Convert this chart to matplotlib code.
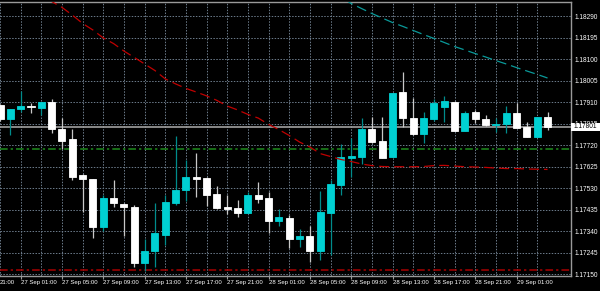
import numpy as np
import pandas as pd
import matplotlib
matplotlib.use('Agg')
import matplotlib.pyplot as plt
from matplotlib.patches import Rectangle
from matplotlib.transforms import blended_transform_factory

# EURUSD H1, first candle 26 Sep 23:00
opens = [1.17897, 1.17835, 1.17878, 1.17891, 1.17885, 1.17909, 1.17789, 1.17745, 1.17587, 1.17570,
         1.17359, 1.17484, 1.17461, 1.17445, 1.17200, 1.17253, 1.17322, 1.17465, 1.17521, 1.17580,
         1.17576, 1.17502, 1.17444, 1.17440, 1.17421, 1.17498, 1.17484, 1.17386, 1.17399, 1.17303,
         1.17318, 1.17253, 1.17421, 1.17543, 1.17661, 1.17668, 1.17789, 1.17739, 1.17668, 1.17953,
         1.17841, 1.17769, 1.17835, 1.17889, 1.17911, 1.17782, 1.17865, 1.17834, 1.17807, 1.17813,
         1.17863, 1.17801, 1.17757, 1.17842]
highs = [1.17901, 1.17879, 1.17960, 1.17904, 1.17912, 1.17923, 1.17841, 1.17791, 1.17590, 1.17572,
         1.17499, 1.17565, 1.17464, 1.17455, 1.17305, 1.17462, 1.17499, 1.17760, 1.17654, 1.17686,
         1.17579, 1.17540, 1.17499, 1.17475, 1.17514, 1.17558, 1.17514, 1.17436, 1.17411, 1.17348,
         1.17362, 1.17517, 1.17565, 1.17724, 1.17752, 1.17841, 1.17845, 1.17845, 1.17950, 1.18041,
         1.17926, 1.17867, 1.17922, 1.17937, 1.17914, 1.17870, 1.17875, 1.17853, 1.17838, 1.17892,
         1.17907, 1.17823, 1.17844, 1.17865]
lows = [1.17826, 1.17764, 1.17867, 1.17863, 1.17853, 1.17775, 1.17701, 1.17565, 1.17424, 1.17308,
        1.17338, 1.17446, 1.17318, 1.17182, 1.17163, 1.17182, 1.17278, 1.17455, 1.17473, 1.17492,
        1.17450, 1.17439, 1.17415, 1.17403, 1.17420, 1.17462, 1.17333, 1.17362, 1.17265, 1.17268,
        1.17204, 1.17214, 1.17234, 1.17497, 1.17580, 1.17636, 1.17729, 1.17663, 1.17667, 1.17801,
        1.17764, 1.17728, 1.17826, 1.17823, 1.17780, 1.17780, 1.17816, 1.17806, 1.17779, 1.17772,
        1.17795, 1.17754, 1.17755, 1.17786]
closes = [1.17835, 1.17878, 1.17892, 1.17888, 1.17909, 1.17789, 1.17738, 1.17580, 1.17568, 1.17359,
          1.17484, 1.17462, 1.17445, 1.17200, 1.17252, 1.17333, 1.17470, 1.17521, 1.17580, 1.17570,
          1.17499, 1.17442, 1.17437, 1.17421, 1.17499, 1.17481, 1.17386, 1.17401, 1.17303, 1.17319,
          1.17252, 1.17425, 1.17548, 1.17666, 1.17671, 1.17789, 1.17735, 1.17664, 1.17948, 1.17838,
          1.17769, 1.17838, 1.17904, 1.17914, 1.17782, 1.17860, 1.17834, 1.17808, 1.17813, 1.17860,
          1.17796, 1.17757, 1.17842, 1.17801]

# moving averages
ma_red = [1.18515, 1.18484, 1.18454, 1.18423, 1.18387, 1.18354, 1.18328, 1.18294, 1.18257, 1.18228,
          1.18193, 1.18168, 1.18135, 1.18107, 1.18078, 1.18049, 1.18012, 1.17990, 1.17970, 1.17954,
          1.17937, 1.17917, 1.17892, 1.17875, 1.17855, 1.17839, 1.17811, 1.17788, 1.17762, 1.17733,
          1.17711, 1.17682, 1.17669, 1.17656, 1.17647, 1.17636, 1.17629, 1.17625, 1.17624, 1.17624,
          1.17624, 1.17625, 1.17629, 1.17630, 1.17627, 1.17624, 1.17623, 1.17621, 1.17618, 1.17616,
          1.17616, 1.17614, 1.17613, 1.17612]
ma_teal = [np.nan] * 33 + [1.18374, 1.18345, 1.18323, 1.18301, 1.18281, 1.18261, 1.18244, 1.18226,
                           1.18208, 1.18191, 1.18173, 1.18155, 1.18140, 1.18124, 1.18109, 1.18093,
                           1.18078, 1.18062, 1.18047, 1.18032, 1.18016]

level_green = 1.17702
level_red = 1.17166
bid = 1.17801
price_ticks = [1.17150, 1.17245, 1.17340, 1.17435, 1.17530, 1.17625, 1.17720,
               1.17815, 1.17910, 1.18005, 1.18100, 1.18195, 1.18290]

times = pd.date_range('2017-09-26 23:00', periods=len(opens), freq='h')

bg = 'black'
bull, bull_wick = '#00d0d2', '#008c8c'
bear, bear_wick = 'white', '#c8c8c8'
grid_c = '#6d7c8c'
frame_c = '#9a9a9a'
fs_price, fs_time = 4.7, 4.3

plt.rcParams['font.family'] = ['Liberation Sans', 'DejaVu Sans']

fig = plt.figure(figsize=(6, 2.91), dpi=100, facecolor=bg)
ax = fig.add_axes([0, 15 / 291, 571.3 / 600, 274.3 / 291], facecolor=bg)
ax.set_axisbelow(True)

x = np.arange(len(opens))
o = np.array(opens); c = np.array(closes)
up = c >= o
body_col = np.where(up, bull, bear)
wick_col = np.where(up, bull_wick, bear_wick)

ax.axhline(bid, color='#a0a0a0', lw=1.2, zorder=1.5)
ax.axhline(level_green, color='#1e8c1e', lw=1.1, ls=(0, (5, 2, 1.5, 2)), zorder=1.6)
ax.axhline(level_red, color='#a80000', lw=1.1, ls=(0, (5, 2, 1.5, 2)), zorder=1.6)

ax.vlines(x, lows, highs, colors=wick_col, lw=0.9, zorder=2)
ax.bar(x, np.abs(c - o), bottom=np.minimum(o, c), width=0.68, color=body_col,
       edgecolor=body_col, lw=0.6, zorder=3)

ax.plot(x, ma_red, color='#c00000', lw=0.9, ls=(0, (8, 4)), zorder=4)
ax.plot(x, ma_teal, color='#0a9a9a', lw=0.9, ls=(0, (8, 4)), zorder=4)

ax.set_xlim(0, 55.3)
ax.set_ylim(1.171412, 1.183532)

# time axis
lab_idx = [i for i, t in enumerate(times) if t.hour % 4 == 1]
ax.set_xticks(lab_idx)
ax.set_xticklabels([times[i].strftime('%d %b %H:%M') for i in lab_idx], ha='left')
ax.set_xticks(x[::2], minor=True)
ax.tick_params(axis='x', which='major', length=2, color=frame_c, pad=1.2,
               labelsize=fs_time, labelcolor='white')
ax.tick_params(axis='x', which='minor', length=0)
ax.annotate('21:00', xy=(0, 0), xycoords='axes fraction', xytext=(0, -3.2),
            textcoords='offset points', ha='left', va='top', fontsize=fs_time,
            color='white', annotation_clip=False)

# price axis
ax.yaxis.tick_right()
ax.set_yticks(price_ticks)
ax.set_yticklabels(['%.5f' % p for p in price_ticks])
ax.tick_params(axis='y', length=0, pad=2.0, labelsize=fs_price, labelcolor='white')

ax.grid(True, which='both', color=grid_c, ls=(0, (1.5, 1.5)), lw=0.7)

for s in ['top', 'bottom', 'right']:
    ax.spines[s].set_color(frame_c)
    ax.spines[s].set_linewidth(1.0)
ax.spines['left'].set_visible(False)

# current price tag
tr = blended_transform_factory(ax.transAxes, ax.transData)
ax.add_patch(Rectangle((1.0, bid - 0.00017), 0.06, 0.00034, transform=tr,
                       facecolor='white', edgecolor='none', clip_on=False, zorder=10))
ax.text(1.0045, bid, '%.5f' % bid, transform=tr, ha='left', va='center',
        fontsize=fs_price, color='black', zorder=11, clip_on=False)

fig.savefig('out.png', dpi=100, facecolor=bg)
